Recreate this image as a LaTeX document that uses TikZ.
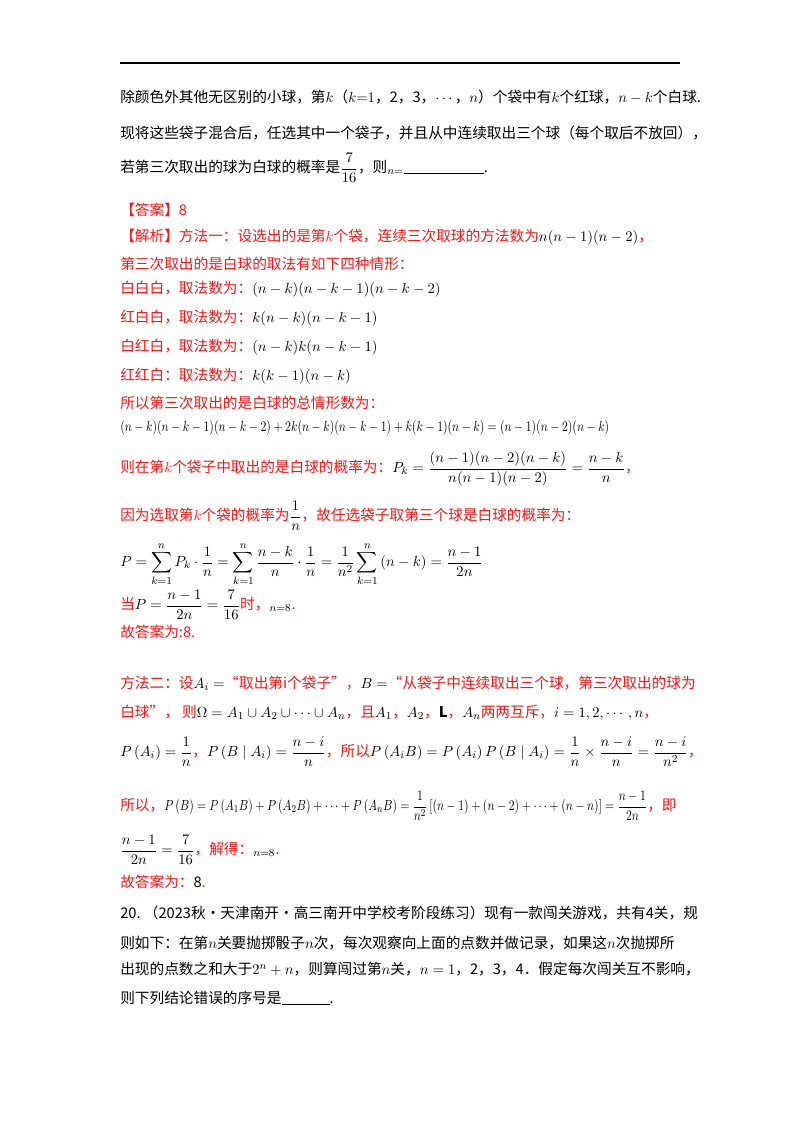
\documentclass[tikz,border=0pt]{standalone}
\usepackage{fontspec}
\usepackage{amsmath}
\usepackage{graphicx}
\newfontfamily\cjk{Noto Sans CJK SC}
\definecolor{ansred}{HTML}{F01818}
\begin{document}
\begin{tikzpicture}[x=0.75pt,y=-0.75pt,
  ln/.style={anchor=west,inner sep=0pt,font=\cjk\fontsize{11}{13}\selectfont},
  rd/.style={ln,text=ansred}]
\useasboundingbox (0,0) rectangle (800,1132);
\draw[line width=0.8pt] (120,63) coordinate (r1) -- (680,63) coordinate (r2);
\node[ln] (l1) at (120,97) {除颜色外其他无区别的小球，第$k$（$k{=}1$，2，3，$\cdots$，$n$）个袋中有$k$个红球，$n-k$个白球.};
\node[ln] (l2) at (120,133) {现将这些袋子混合后，任选其中一个袋子，并且从中连续取出三个球（每个取后不放回），};
\node[ln] (l3) at (120,168) {若第三次取出的球为白球的概率是$\dfrac{7}{16}$，则$_{n=}$\rule[-1pt]{60pt}{0.5pt}.};
\node[rd] (l4) at (120,210) {【答案】8};
\node[rd] (l5) at (120,237) {【解析】方法一：设选出的是第$k$个袋，连续三次取球的方法数为{\color{black}$n(n-1)(n-2)$}，};
\node[rd] (l6) at (120,264) {第三次取出的是白球的取法有如下四种情形：};
\node[rd] (l7) at (120,289) {白白白，取法数为：{\color{black}$(n-k)(n-k-1)(n-k-2)$}};
\node[rd] (l8) at (120,318) {红白白，取法数为：{\color{black}$k(n-k)(n-k-1)$}};
\node[rd] (l9) at (120,347) {白红白，取法数为：{\color{black}$(n-k)k(n-k-1)$}};
\node[rd] (l10) at (120,376) {红红白：取法数为：{\color{black}$k(k-1)(n-k)$}};
\node[rd] (l11) at (120,403) {所以第三次取出的是白球的总情形数为：};
\node[ln] (l12) at (120,428) {\scalebox{0.8}[1]{$(n-k)(n-k-1)(n-k-2)+2k(n-k)(n-k-1)+k(k-1)(n-k)=(n-1)(n-2)(n-k)$}};
\node[rd] (l13) at (120,469) {则在第$k$个袋子中取出的是白球的概率为：{\color{black}$P_k=\dfrac{(n-1)(n-2)(n-k)}{n(n-1)(n-2)}=\dfrac{n-k}{n}$}，};
\node[rd] (l14) at (120,516) {因为选取第$k$个袋的概率为{\color{black}$\dfrac{1}{n}$}，故任选袋子取第三个球是白球的概率为：};
\node[ln] (l15) at (120,564) {$P=\displaystyle\sum_{k=1}^{n}P_k\cdot\frac1n=\sum_{k=1}^{n}\frac{n-k}{n}\cdot\frac1n=\frac{1}{n^2}\sum_{k=1}^{n}\left(n-k\right)=\frac{n-1}{2n}$};
\node[rd] (l16) at (120,605) {当{\color{black}$P=\dfrac{n-1}{2n}=\dfrac{7}{16}$}时，{\color{black}$_{n=8}$}.};
\node[rd] (l17) at (120,632) {故答案为:8.};
\node[rd] (l18) at (120,683) {方法二：设{\color{black}$A_i=$}“取出第i个袋子”，{\color{black}$B=$}“从袋子中连续取出三个球，第三次取出的球为};
\node[rd] (l19) at (120,713) {白球”，\ 则{\color{black}$\Omega=A_1\cup A_2\cup\cdots\cup A_n$}，且{\color{black}$A_1$}，{\color{black}$A_2$}，{\color{black}\textbf{L}}，{\color{black}$A_n$}两两互斥，{\color{black}$i=1,2,\cdots,n$}，};
\node[rd] (l20) at (120,752) {{\color{black}$P\left(A_i\right)=\dfrac1n$}，{\color{black}$P\left(B\mid A_i\right)=\dfrac{n-i}{n}$}，所以{\color{black}$P\left(A_iB\right)=P\left(A_i\right)P\left(B\mid A_i\right)=\dfrac1n\times\dfrac{n-i}{n}=\dfrac{n-i}{n^2}$}，};
\node[rd] (l21) at (120,806) {所以，{\color{black}\scalebox{0.8}[1]{$P\left(B\right)=P\left(A_1B\right)+P\left(A_2B\right)+\cdots+P\left(A_nB\right)=\dfrac{1}{n^2}\left[\left(n-1\right)+\left(n-2\right)+\cdots+\left(n-n\right)\right]=\dfrac{n-1}{2n}$}}，即};
\node[rd] (l22) at (120,850) {{\color{black}$\dfrac{n-1}{2n}=\dfrac{7}{16}$}，解得：{\color{black}$_{n=8}$}.};
\node[rd] (l23) at (120,882) {故答案为：{\color{black}8}.};
\node[ln] (l24) at (120,913) {20.\ （2023秋·天津南开·高三南开中学校考阶段练习）现有一款闯关游戏，共有4关，规};
\node[ln] (l25) at (120,943) {则如下：在第$n$关要抛掷骰子$n$次，每次观察向上面的点数并做记录，如果这$n$次抛掷所};
\node[ln] (l26) at (120,969) {出现的点数之和大于$2^n+n$，则算闯过第$n$关，$n=1$，2，3，4．假定每次闯关互不影响，};
\node[ln] (l27) at (120,998) {则下列结论错误的序号是\rule[-1pt]{36pt}{0.5pt}.};
\end{tikzpicture}
\end{document}
